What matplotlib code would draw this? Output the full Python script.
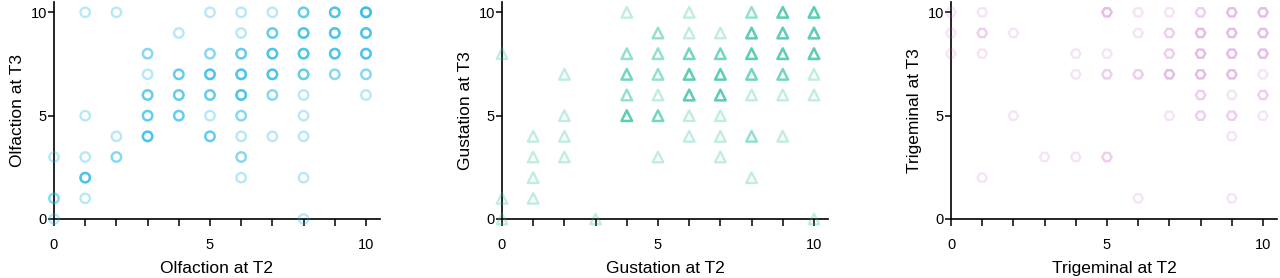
import numpy as np
import matplotlib
matplotlib.use('Agg')
import matplotlib.pyplot as plt

plt.rcParams['font.family'] = ['Liberation Sans', 'DejaVu Sans']

# Olfaction: score at T2, score at T3, number of subjects at that point
olf_t2 = [1, 2, 5, 6, 7, 8, 9, 10,
          4, 6, 7, 8, 9, 10,
          3, 5, 6, 7, 8, 9, 10,
          3, 4, 5, 6, 7, 8, 9, 10,
          3, 4, 5, 6, 7, 8, 10,
          1, 3, 4, 5, 6, 8,
          2, 3, 5, 6, 7, 8,
          0, 1, 2, 6,
          1, 6, 8,
          0, 1,
          0, 8]
olf_t3 = [10, 10, 10, 10, 10, 10, 10, 10,
          9, 9, 9, 9, 9, 9,
          8, 8, 8, 8, 8, 8, 8,
          7, 7, 7, 7, 7, 7, 7, 7,
          6, 6, 6, 6, 6, 6, 6,
          5, 5, 5, 5, 5, 5,
          4, 4, 4, 4, 4, 4,
          3, 3, 3, 3,
          2, 2, 2,
          1, 1,
          0, 0]
olf_n = [1, 1, 1, 1, 1, 3, 4, 5,
         1, 1, 3, 4, 4, 4,
         2, 2, 3, 4, 4, 4, 4,
         1, 3, 4, 4, 4, 3, 2, 2,
         3, 3, 3, 4, 2, 1, 1,
         1, 3, 3, 1, 2, 1,
         1, 4, 3, 1, 1, 1,
         1, 1, 2, 2,
         4, 1, 1,
         2, 1,
         1, 1]

# Gustation
gus_t2 = [4, 6, 8, 9, 10,
          5, 6, 7, 8, 9, 10,
          0, 4, 5, 6, 7, 8, 9, 10,
          2, 4, 5, 6, 7, 8, 9, 10,
          4, 5, 6, 7, 8, 9, 10,
          2, 4, 5, 6, 7,
          1, 2, 6, 7, 8, 9,
          1, 2, 5, 7,
          1, 8,
          0, 1,
          0, 3, 10]
gus_t3 = [10, 10, 10, 10, 10,
          9, 9, 9, 9, 9, 9,
          8, 8, 8, 8, 8, 8, 8, 8,
          7, 7, 7, 7, 7, 7, 7, 7,
          6, 6, 6, 6, 6, 6, 6,
          5, 5, 5, 5, 5,
          4, 4, 4, 4, 4, 4,
          3, 3, 3, 3,
          2, 2,
          1, 1,
          0, 0, 0]
gus_n = [1, 1, 2, 4, 4,
         2, 1, 1, 4, 4, 4,
         1, 2, 2, 3, 3, 4, 4, 4,
         1, 3, 2, 4, 4, 3, 3, 1,
         2, 1, 4, 4, 1, 1, 1,
         1, 4, 3, 1, 1,
         1, 1, 1, 1, 2, 1,
         1, 1, 1, 1,
         1, 1,
         1, 1,
         1, 1, 1]

# Trigeminal
tri_t2 = [0, 1, 5, 6, 7, 8, 9, 10,
          0, 1, 2, 6, 7, 8, 9, 10,
          0, 1, 4, 5, 7, 8, 9, 10,
          4, 5, 6, 7, 8, 9, 10,
          8, 9, 10,
          2, 7, 8, 9, 10,
          9,
          3, 4, 5,
          1,
          6, 9]
tri_t3 = [10, 10, 10, 10, 10, 10, 10, 10,
          9, 9, 9, 9, 9, 9, 9, 9,
          8, 8, 8, 8, 8, 8, 8, 8,
          7, 7, 7, 7, 7, 7, 7,
          6, 6, 6,
          5, 5, 5, 5, 5,
          4,
          3, 3, 3,
          2,
          1, 1]
tri_n = [1, 1, 3, 1, 1, 2, 3, 3,
         1, 2, 1, 1, 2, 3, 3, 3,
         1, 1, 1, 1, 2, 3, 3, 3,
         1, 2, 2, 3, 3, 3, 1,
         2, 1, 2,
         1, 1, 2, 2, 1,
         1,
         1, 1, 2,
         1,
         1, 1]

panels = [
    (olf_t2, olf_t3, olf_n, 'o', 46, '#14b4e4', 0.3, 'Olfaction at T2', 'Olfaction at T3'),
    (gus_t2, gus_t3, gus_n, '^', 58, '#1fbf9c', 0.28, 'Gustation at T2', 'Gustation at T3'),
    (tri_t2, tri_t3, tri_n, 'H', 46, '#c864c8', 0.17, 'Trigeminal at T2', 'Trigeminal at T3'),
]
lefts = [54, 502, 951]

fig = plt.figure(figsize=(12.8, 2.78), dpi=100)

for (xs, ys, ns, mk, sz, col, a, xl, yl), left in zip(panels, lefts):
    ax = fig.add_axes([left / 1280, 59 / 278, 326 / 1280, 217 / 278])
    # stack one marker per subject so overlap shows as darker rings
    xr = np.repeat(xs, ns)
    yr = np.repeat(ys, ns)
    ax.scatter(xr, yr, s=sz, marker=mk, facecolors='none', edgecolors=col,
               linewidths=1.7, alpha=a, clip_on=False, zorder=3)
    ax.set_xlim(0, 10.45)
    ax.set_ylim(0, 10.5)
    for s in ['top', 'right']:
        ax.spines[s].set_visible(False)
    for s in ['left', 'bottom']:
        ax.spines[s].set_linewidth(1.2)
    ax.set_xticks(range(11))
    ax.set_xticklabels(['0', '', '', '', '', '5', '', '', '', '', '10'])
    ax.set_yticks([0, 5, 10])
    ax.tick_params(axis='x', length=5, width=1.1, labelsize=10.5, pad=9)
    ax.tick_params(axis='y', length=4, width=1.1, labelsize=10.5, pad=1)
    ax.set_xlabel(xl, fontsize=12.5, labelpad=6)
    ax.set_ylabel(yl, fontsize=12.5, labelpad=4)

fig.savefig('out.png', dpi=100)
